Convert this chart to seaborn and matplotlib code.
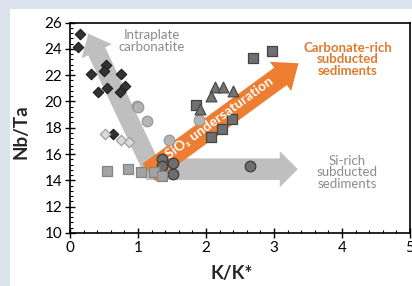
import numpy as np
import pandas as pd
import seaborn as sns
import matplotlib.pyplot as plt
from matplotlib.patches import Rectangle
from matplotlib.ticker import MultipleLocator

# data: K/K* (x) and Nb/Ta (y) per group
dark_diamond_x = [0.15, 0.12, 0.31, 0.53, 0.50, 0.75, 0.81, 0.41, 0.54, 0.74, 0.63]
dark_diamond_y = [25.1, 24.1, 22.1, 22.8, 22.3, 22.1, 21.2, 20.7, 21.0, 20.7, 17.5]
light_diamond_x = [0.51, 0.75, 0.87]
light_diamond_y = [17.5, 17.05, 16.9]
light_circle_x = [0.98, 1.00, 1.13, 1.45, 1.89]
light_circle_y = [19.65, 19.55, 18.5, 17.1, 18.6]
dark_circle_x = [1.36, 1.36, 1.52, 1.52, 2.65]
dark_circle_y = [15.6, 15.1, 15.35, 14.45, 15.1]
light_square_x = [0.55, 0.86, 1.04, 1.24, 1.35]
light_square_y = [14.7, 14.85, 14.6, 14.65, 14.3]
dark_square_x = [2.69, 2.97, 1.85, 2.38, 2.23, 2.08]
dark_square_y = [23.3, 23.8, 19.7, 18.7, 17.9, 17.3]
triangle_x = [2.13, 2.25, 2.39, 2.08, 1.91]
triangle_y = [21.1, 21.1, 20.8, 20.4, 19.4]

groups = [
    ("dark_diamond", dark_diamond_x, dark_diamond_y, "D", "#333333", "#222222", 28),
    ("light_diamond", light_diamond_x, light_diamond_y, "D", "#d9d9d9", "#a0a0a0", 28),
    ("light_circle", light_circle_x, light_circle_y, "o", "#b4b4b4", "#9a9a9a", 58),
    ("dark_circle", dark_circle_x, dark_circle_y, "o", "#6e6e6e", "#3c3c3c", 58),
    ("light_square", light_square_x, light_square_y, "s", "#a3a3a3", "#858585", 46),
    ("dark_square", dark_square_x, dark_square_y, "s", "#707070", "#454545", 50),
    ("triangle", triangle_x, triangle_y, "^", "#737373", "#4a4a4a", 60),
]

sns.set_theme(style="ticks")
plt.rcParams['font.family'] = ['Lato', 'DejaVu Sans']

fig = plt.figure(figsize=(4.12, 2.86), dpi=100, facecolor="#dbe3ef")
fig.patches.append(Rectangle((10 / 412, 0), 1, 1 - 9 / 286, transform=fig.transFigure,
                             facecolor="white", edgecolor="none", zorder=-10))
ax = fig.add_axes([70 / 412, 53 / 286, 340 / 412, 210.5 / 286])
ax.set_facecolor("white")

gray = "#bfbfbf"
orange = "#ed7d31"

# intraplate carbonatite arrow
ax.annotate("", xy=(0.27, 25.15), xytext=(1.25, 14.4),
            arrowprops=dict(width=13.5, headwidth=24, headlength=14, shrink=0,
                            facecolor=gray, edgecolor="none"), zorder=1)
# Si-rich sediments arrow
ax.annotate("", xy=(3.35, 14.85), xytext=(1.12, 14.85),
            arrowprops=dict(width=15.5, headwidth=26, headlength=13, shrink=0,
                            facecolor=gray, edgecolor="none"), zorder=1)
# SiO2 undersaturation arrow
ax.annotate("", xy=(3.36, 22.9), xytext=(1.16, 14.6),
            arrowprops=dict(width=15.5, headwidth=26, headlength=16, shrink=0,
                            facecolor=orange, edgecolor="none"), zorder=2)

for name, xs, ys, mk, fc, ec, s in groups:
    df = pd.DataFrame({"K/K*": xs, "Nb/Ta": ys})
    sns.scatterplot(data=df, x="K/K*", y="Nb/Ta", marker=mk, s=s, color=fc,
                    edgecolor=ec, linewidth=0.9, ax=ax, zorder=3)

ax.text(2.2, 18.75, "SiO₂ undersaturation", rotation=36, color="white",
        fontsize=10, fontweight="bold", ha="center", va="center",
        rotation_mode="anchor", zorder=5)
ax.text(1.2, 24.6, "Intraplate\ncarbonatite", color="#8c8c8c", fontsize=9.5,
        ha="center", va="center", linespacing=0.95, zorder=4)
ax.text(4.08, 23.2, "Carbonate-rich\nsubducted\nsediments", color="#e07a2e",
        fontsize=9.5, fontweight="bold", ha="center", va="center",
        linespacing=0.95, zorder=4)
ax.text(4.07, 14.6, "Si-rich\nsubducted\nsediments", color="#8c8c8c",
        fontsize=9.5, ha="center", va="center", linespacing=0.95, zorder=4)

ax.set_xlim(0, 5)
ax.set_ylim(10, 26)
ax.xaxis.set_major_locator(MultipleLocator(1))
ax.xaxis.set_minor_locator(MultipleLocator(0.2))
ax.yaxis.set_major_locator(MultipleLocator(2))
ax.yaxis.set_minor_locator(MultipleLocator(0.4))
ax.tick_params(which="major", direction="inout", length=7, width=1, labelsize=11,
               color="black", labelcolor="black", pad=2)
ax.tick_params(which="minor", direction="in", length=2.5, width=0.8, color="black")
for sp in ax.spines.values():
    sp.set_visible(True)
    sp.set_color("black")
    sp.set_linewidth(1.2)

ax.set_xlabel("K/K*", fontsize=13.5, fontweight="bold")
ax.set_ylabel("Nb/Ta", fontsize=13.5, fontweight="bold")
ax.xaxis.set_label_coords(0.476, -0.15)
ax.yaxis.set_label_coords(-0.12, 0.48)

fig.savefig("out.png", dpi=100, facecolor=fig.get_facecolor())
